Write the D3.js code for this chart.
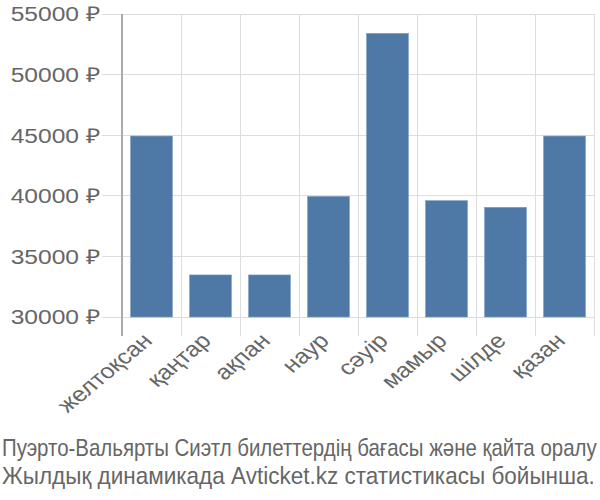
<!DOCTYPE html>
<html><head><meta charset="utf-8">
<script src="https://cdn.jsdelivr.net/npm/d3@7"></script>
<style>body{margin:0;background:#fff}svg{display:block}</style>
</head><body>
<script>
const categories = ["желтоқсан","қаңтар","ақпан","наур","сәуір","мамыр","шілде","қазан"];
const values = [44930, 33470, 33470, 39950, 53400, 39600, 39050, 44930];
const yTicks = [30000, 35000, 40000, 45000, 50000, 55000];
const caption = ["Пуэрто-Вальярты Сиэтл билеттердің бағасы және қайта оралу","Жылдық динамикада Avticket.kz статистикасы бойынша."];

(function(){
const W = 600, H = 500;
const mLeft = 122, mRight = 594, mTop = 14, mBottom = 317;
const svg = d3.select("body").append("svg").attr("width", W).attr("height", H);
const font = "'Liberation Sans', Arial, sans-serif";
const txt = "#666666";

const x = d3.scaleBand().domain(categories).range([mLeft, mRight]).paddingInner(0.29).paddingOuter(0.145);
const y = d3.scaleLinear().domain([30000, 55000]).range([mBottom, mTop]);
const step = x.step();
const bound = d => x(d) - step * 0.145;

svg.append("g").selectAll("line").data(yTicks).join("line")
  .attr("x1", 102).attr("x2", mRight).attr("y1", d => y(d)).attr("y2", d => y(d))
  .attr("stroke", "#dddddd").attr("stroke-width", 1).attr("shape-rendering","crispEdges");
const vb = categories.map(bound).concat([mRight]);
svg.append("g").selectAll("line").data(vb).join("line")
  .attr("x1", d => d).attr("x2", d => d).attr("y1", mTop).attr("y2", 336)
  .attr("stroke", (d,i) => i === 0 ? "#aaaaaa" : "#dddddd").attr("stroke-width", (d,i)=> i===0?1.5:1).attr("shape-rendering","crispEdges");

svg.append("g").selectAll("rect").data(values).join("rect")
  .attr("x", (d,i) => x(categories[i])).attr("width", x.bandwidth())
  .attr("y", d => y(d)).attr("height", d => y(30000) - y(d))
  .attr("fill", "#4e79a7").attr("stroke", "#7d9cc2").attr("stroke-width", 0.6);

svg.append("g").selectAll("text").data(yTicks).join("text")
  .attr("transform", d => `translate(100,${y(d) + 7.3}) scale(1.2,1)`)
  .attr("text-anchor", "end").attr("font-family", font).attr("font-size", 20.5)
  .attr("fill", txt).text(d => d + " ₽");

svg.append("g").selectAll("text").data(categories).join("text")
  .attr("transform", d => `translate(${x(d) + x.bandwidth()/2 + 2},342) scale(1.2,1) rotate(-45)`)
  .attr("text-anchor", "end").attr("font-family", font).attr("font-size", 21)
  .attr("fill", txt).text(d => d);

const targets = [595, 593];
svg.append("g").selectAll("text").data(caption).join("text")
  .attr("font-family", font).attr("font-size", 24).attr("fill", txt).text(d => d)
  .each(function(d, i){
    const n = this.getComputedTextLength() || targets[i];
    d3.select(this).attr("transform", `translate(2,${456 + i * 27.5}) scale(${targets[i] / n},1)`);
  });
})();
</script>
</body></html>
